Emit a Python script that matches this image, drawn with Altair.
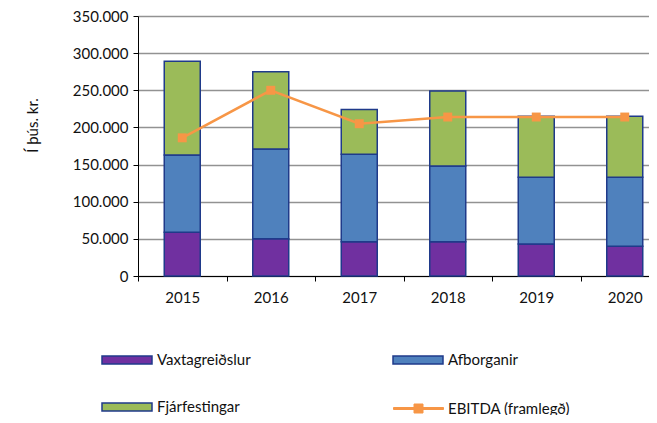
import altair as alt
import pandas as pd

years = ["2015", "2016", "2017", "2018", "2019", "2020"]
vaxtagreidslur = [59000, 50000, 46000, 46000, 43000, 40000]
afborganir = [104000, 121000, 118000, 102000, 90000, 93000]
fjarfestingar = [126000, 104000, 60000, 101000, 82000, 82000]
ebitda = [186000, 250000, 205000, 214000, 214000, 214000]

series_names = ["Vaxtagreiðslur", "Afborganir", "Fjárfestingar"]
series_colors = ["#7030A0", "#4F81BD", "#9BBB59"]
legend_order = ["Vaxtagreiðslur", "Fjárfestingar", "Afborganir"]
line_name = "EBITDA (framlegð)"
line_color = "#F79646"
y_ticks = [0, 50000, 100000, 150000, 200000, 250000, 300000, 350000]

rows = []
for i, yr in enumerate(years):
    for k, (name, vals) in enumerate(zip(series_names, [vaxtagreidslur, afborganir, fjarfestingar])):
        rows.append({"year": yr, "series": name, "value": vals[i], "order": k})
bars_df = pd.DataFrame(rows)
line_df = pd.DataFrame({"year": years, "value": ebitda, "line": line_name})

FONT = "Lato"
NAVY = "#1F3A8A"

x_scale = alt.Scale(domain=years, range=[0, 531], paddingInner=0, paddingOuter=0)
x_axis = alt.Axis(labelAngle=0, tickBand="extent", domainColor="black", tickColor="black",
                  tickSize=5, labelFont=FONT, labelFontSize=15, labelColor="#111",
                  labelPadding=9, grid=False)
y_axis = alt.Axis(values=y_ticks, labelExpr="replace(format(datum.value, ','), /,/g, '.')",
                  domainColor="black", tickColor="black", tickSize=5, labelFont=FONT,
                  labelFontSize=15, labelColor="#111", labelPadding=5,
                  grid=True, gridColor="#929292", gridWidth=1.5,
                  title="Í þús. kr.", titleFont=FONT, titleFontSize=15, titleFontWeight="normal",
                  titleColor="#111", titleAngle=-90, titleX=-106, titleY=109,
                  titleAlign="center", titleBaseline="middle")
y_scale = alt.Scale(domain=[0, 350000], nice=False)

bars = alt.Chart(bars_df).mark_bar(width=36, stroke=NAVY, strokeWidth=1.5).encode(
    x=alt.X("year:N", title=None, scale=x_scale, axis=x_axis),
    y=alt.Y("value:Q", stack="zero", scale=y_scale, axis=y_axis),
    color=alt.Color("series:N", scale=alt.Scale(domain=series_names, range=series_colors),
                    legend=alt.Legend(title=None, orient="none", legendX=-37, legendY=318,
                                      values=legend_order,
                                      columns=2, columnPadding=139, rowPadding=13, padding=0,
                                      symbolType="M-1,-0.16H1V0.16H-1Z", symbolSize=2500,
                                      symbolStrokeColor=NAVY, symbolStrokeWidth=1.5,
                                      symbolOpacity=1, labelOffset=4,
                                      labelFont=FONT, labelFontSize=15, labelColor="#111")),
    order=alt.Order("order:Q"),
)

line = alt.Chart(line_df).mark_line(
    strokeWidth=2.5,
    point=alt.OverlayMarkDef(shape="square", size=80, filled=True, opacity=1),
).encode(
    x=alt.X("year:N", title=None, scale=x_scale, axis=x_axis),
    y=alt.Y("value:Q", scale=y_scale, axis=y_axis),
    color=alt.Color("line:N", scale=alt.Scale(domain=[line_name], range=[line_color]),
                    legend=alt.Legend(title=None, orient="none", legendX=255, legendY=367, padding=0,
                                      symbolType="M-1,-0.04H1V0.04H-1Z M-0.18,-0.18H0.18V0.18H-0.18Z",
                                      symbolSize=2500, symbolFillColor=line_color,
                                      symbolStrokeColor=line_color, symbolStrokeWidth=1,
                                      symbolOpacity=1, labelOffset=4,
                                      labelFont=FONT, labelFontSize=15, labelColor="#111")),
)

chart = alt.layer(bars, line).resolve_scale(color="independent").properties(
    width=511, height=260,
    autosize=alt.AutoSizeParams(type="none"),
    padding={"left": 130, "top": 8, "right": 0, "bottom": 139},
).configure_view(stroke=None)

chart.save("out.html", embed_options={"renderer": "svg", "actions": False})
